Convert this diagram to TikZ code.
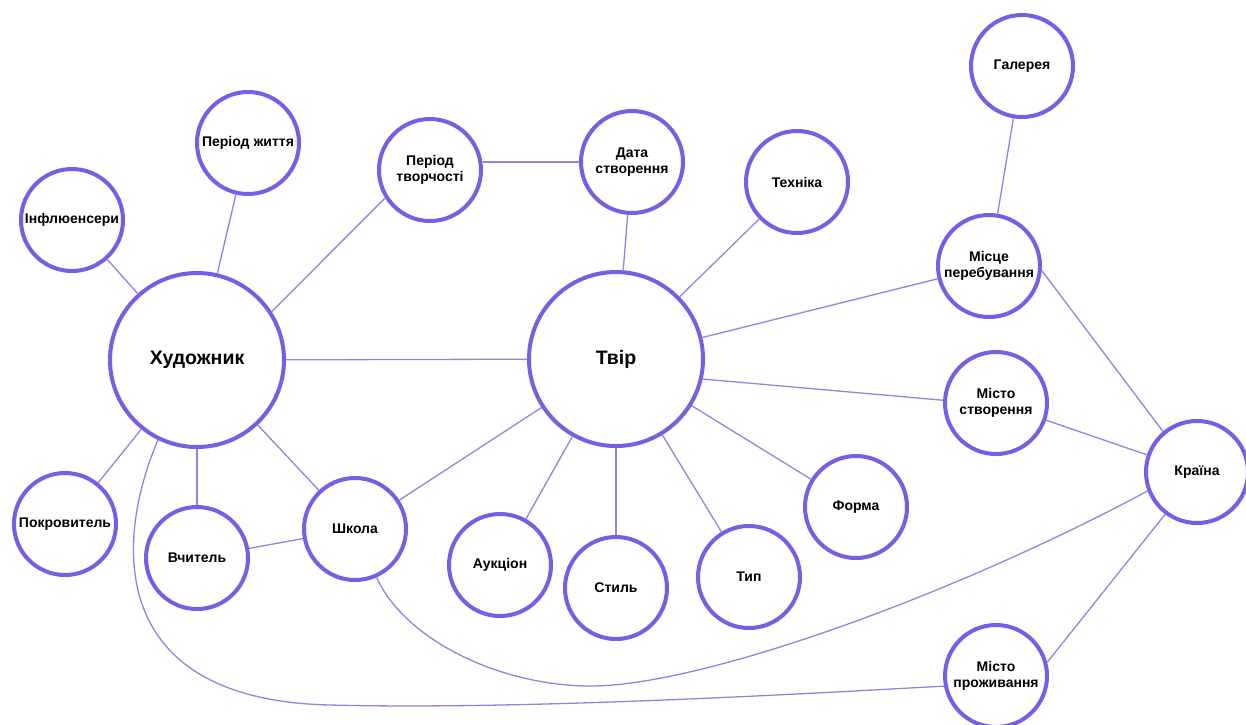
\documentclass[tikz,border=0pt]{standalone}
\usepackage{fontspec}
\setmainfont{Liberation Sans}
\definecolor{nodeline}{HTML}{7A5CE6}
\definecolor{edgeline}{HTML}{9483DE}
\tikzset{
  sm/.style={circle, draw=nodeline, line width=4pt, fill=white, minimum size=102pt, inner sep=0pt, align=center, text=black, font=\fontsize{14}{16.5}\selectfont\bfseries},
  big/.style={sm, minimum size=174pt, font=\fontsize{19.5}{22}\selectfont\bfseries},
  edge/.style={draw=edgeline, line width=1.3pt}
}
\begin{document}
\begin{tikzpicture}[x=1pt,y=-1pt]
\useasboundingbox[fill=white] (0,0) rectangle (1246,724);
\node[big] (hud) at (197,360) {Художник};
\node[big] (tvir) at (616,359) {Твір};
\node[sm] (infl) at (72,220) {Інфлюенсери};
\node[sm] (pzh) at (248,143) {Період життя};
\node[sm] (ptv) at (430,170) {Період\\творчості};
\node[sm] (data) at (632,162) {Дата\\створення};
\node[sm] (tekh) at (797,182) {Техніка};
\node[sm] (gal) at (1022,66) {Галерея};
\node[sm] (misce) at (989,266) {Місце\\перебування};
\node[sm] (mstv) at (996,403) {Місто\\створення};
\node[sm] (kr) at (1197,472) {Країна};
\node[sm] (forma) at (856,507) {Форма};
\node[sm] (typ) at (749,577) {Тип};
\node[sm] (styl) at (616,588) {Стиль};
\node[sm] (auk) at (500,565) {Аукціон};
\node[sm] (shk) at (355,529) {Школа};
\node[sm] (vch) at (197,558) {Вчитель};
\node[sm] (pokr) at (65,524) {Покровитель};
\node[sm] (mpr) at (996,676) {Місто\\проживання};

\draw[edge] (infl) -- (hud);
\draw[edge] (pzh) -- (hud);
\draw[edge] (hud.33) -- (ptv.212);
\draw[edge] (ptv.east |- data.west) -- (data.west);
\draw[edge] (hud) -- (tvir);
\draw[edge] (hud) -- (pokr);
\draw[edge] (hud) -- (vch);
\draw[edge] (hud) -- (shk);
\draw[edge] (vch) -- (shk);
\draw[edge] (shk) -- (tvir);
\draw[edge] (data) -- (tvir);
\draw[edge] (tekh) -- (tvir);
\draw[edge] (tvir) -- (misce);
\draw[edge] (tvir.-13) -- (mstv.177);
\draw[edge] (tvir) -- (auk);
\draw[edge] (tvir) -- (styl);
\draw[edge] (tvir) -- (typ);
\draw[edge] (tvir) -- (forma);
\draw[edge] (gal) -- (misce);
\draw[edge] (misce.-5) -- (kr.130);
\draw[edge] (mstv) -- (kr);
\draw[edge] (mpr.15) -- (kr.233);
\draw[edge] (shk.-66) .. controls (405,640) and (500,686) .. (591,686)
  .. controls (700,686) and (950,597) .. (kr.201);
\draw[edge] (hud.244) .. controls (115,540) and (105,700) .. (330,705)
  .. controls (520,710) and (800,694) .. (mpr.191);
\end{tikzpicture}
\end{document}
